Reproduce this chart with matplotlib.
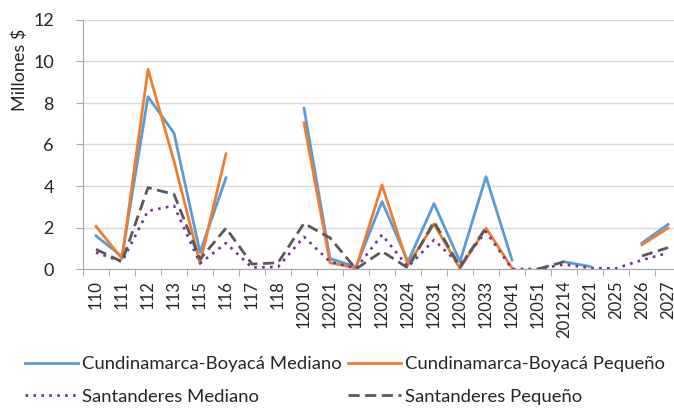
import numpy as np
import matplotlib
matplotlib.use('Agg')
import matplotlib.pyplot as plt

nan = np.nan

categories = ['110', '111', '112', '113', '115', '116', '117', '118', '12010',
              '12021', '12022', '12023', '12024', '12031', '12032', '12033',
              '12041', '12051', '201214', '2021', '2025', '2026', '2027']

cb_mediano = [1.6, 0.6, 8.3, 6.55, 0.8, 4.4, nan, nan, 7.75, 0.5, 0.1, 3.25,
              0.35, 3.15, 0.35, 4.45, 0.43, nan, 0.35, 0.12, nan, 1.25, 2.15]
cb_pequeno = [2.05, 0.5, 9.62, 5.2, 0.27, 5.55, nan, nan, 7.05, 0.3, 0.05, 4.05,
              0.2, 2.17, 0.03, 1.97, 0.05, nan, nan, nan, nan, 1.17, 1.97]
sant_mediano = [0.8, 0.35, 2.8, 3.05, 0.27, 1.25, 0.07, 0.1, 1.55, 0.35, 0.03,
                1.65, 0.1, 1.4, 0.2, 1.8, 0.0, 0.0, 0.22, 0.05, 0.03, 0.43, 0.78]
sant_pequeno = [0.95, 0.35, 3.92, 3.6, 0.47, 1.97, 0.24, 0.3, 2.2, 1.5, 0.0,
                0.85, 0.05, 2.28, 0.1, 2.0, nan, 0.0, 0.35, nan, nan, 0.63, 1.03]

plt.rcParams['font.family'] = ['Lato', 'DejaVu Sans']
W, H = 674, 415
fig = plt.figure(figsize=(W / 100, H / 100), dpi=100)
# plot area runs past the right edge, as in the cropped original
ax = fig.add_axes([83 / W, 1 - 269 / H, (681 - 83) / W, (269 - 20) / H])

x = np.arange(len(categories))
l1, = ax.plot(x, cb_mediano, color='#5B9BD5', lw=2.0, label='Cundinamarca-Boyacá Mediano')
l2, = ax.plot(x, cb_pequeno, color='#ED7D31', lw=2.0, label='Cundinamarca-Boyacá Pequeño')
l3, = ax.plot(x, sant_mediano, color='#7030A0', lw=1.9, ls=(0, (1, 2)), label='Santanderes Mediano')
l4, = ax.plot(x, sant_pequeno, color='#595959', lw=2.0, ls=(0, (4, 2)), label='Santanderes Pequeño')

ax.set_xlim(-0.5, len(categories) - 0.5)
ax.set_ylim(0, 12)
ax.set_yticks(range(0, 13, 2))
ax.grid(axis='y', color='#d9d9d9', lw=1)
ax.set_axisbelow(True)
ax.set_xticks(x)
ax.set_xticklabels(categories, rotation=90, fontsize=12, color='#262626')
ax.tick_params(axis='x', length=0, pad=8)
ax.set_xticks(np.arange(-0.5, len(categories)), minor=True)
ax.tick_params(axis='x', which='minor', length=5, color='#a6a6a6')
ax.tick_params(axis='y', length=5, color='#a6a6a6', labelsize=13, labelcolor='#262626', pad=16)
for s in ('top', 'right'):
    ax.spines[s].set_visible(False)
for s in ('left', 'bottom'):
    ax.spines[s].set_color('#a6a6a6')
ax.set_ylabel('Millones $', fontsize=13, color='#262626')
ax.yaxis.set_label_coords(-0.092, 0.80)

fig.legend([l1, l3, l2, l4], [h.get_label() for h in (l1, l3, l2, l4)],
           ncol=2, loc='upper left', bbox_to_anchor=(25 / W, 1 - 356 / H),
           frameon=False, fontsize=13.3, labelcolor='#262626',
           handlelength=2.87, handletextpad=0.22, columnspacing=0.32,
           labelspacing=0.9, borderpad=0, borderaxespad=0)

fig.savefig('out.png', dpi=100)
